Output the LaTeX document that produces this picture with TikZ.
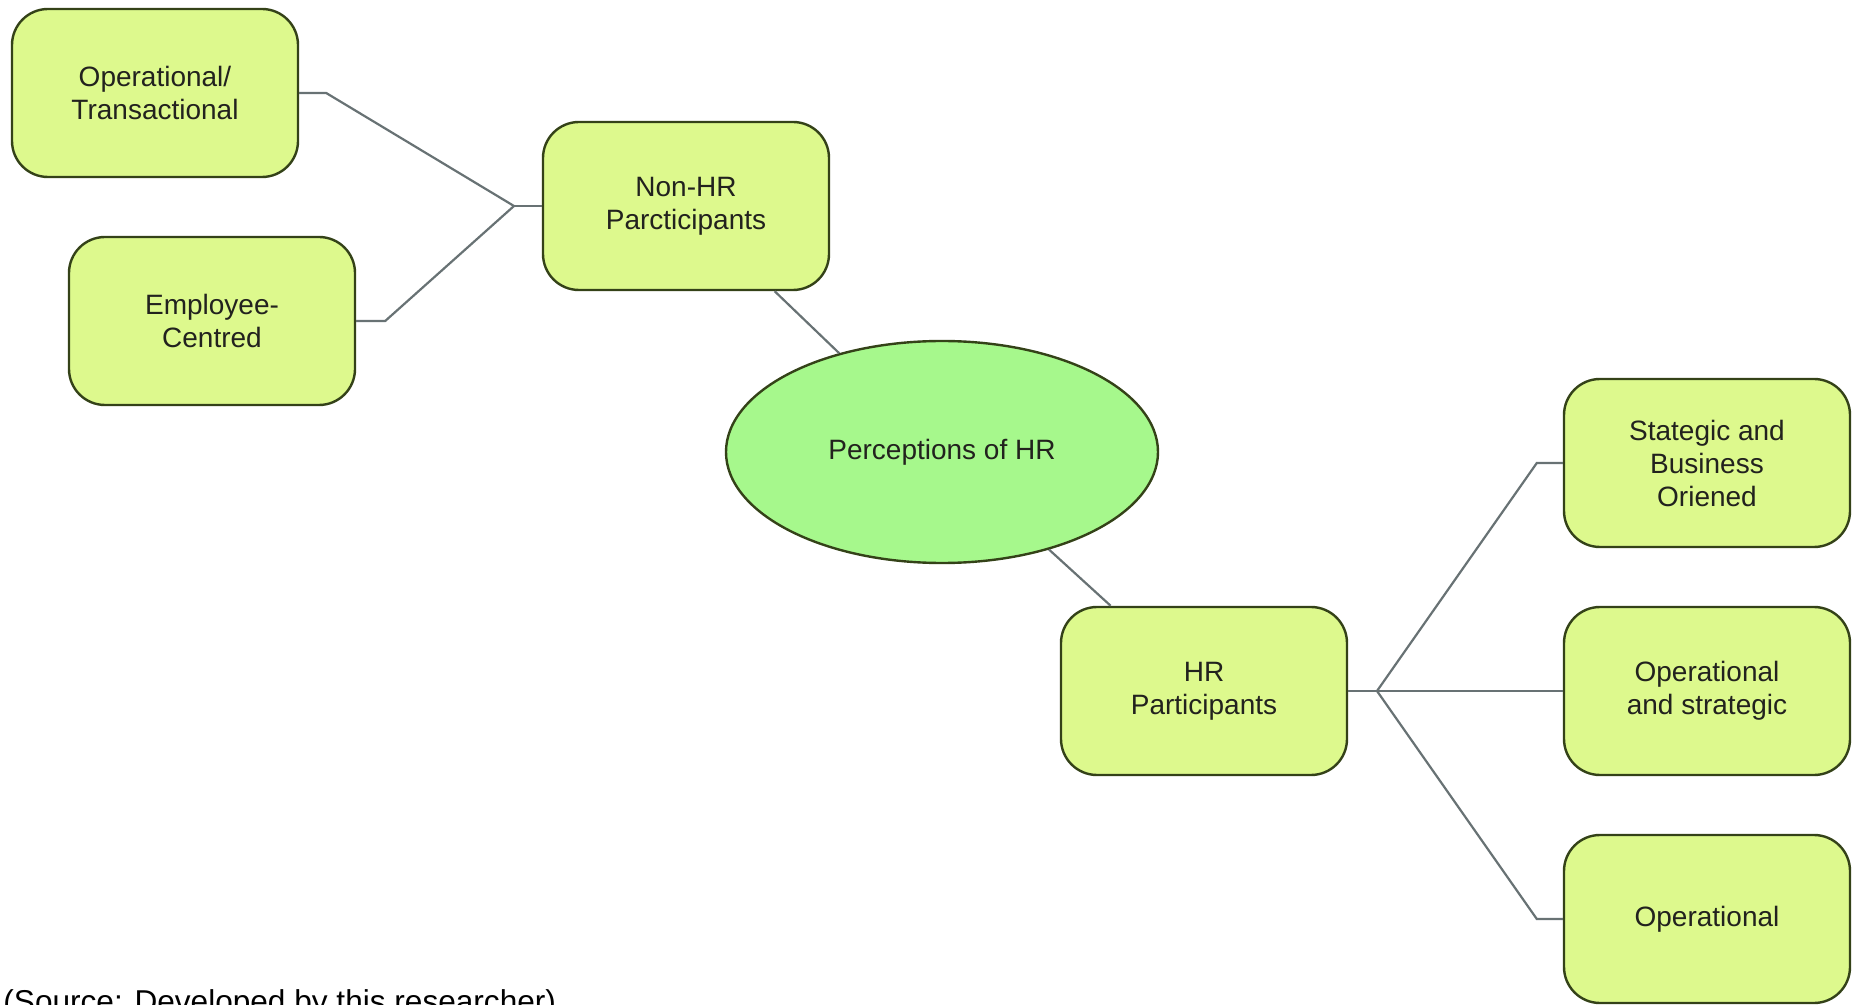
\documentclass[tikz,border=0pt]{standalone}
\usepackage{fontspec}
\setmainfont{Liberation Sans}
\usepackage{tikz}
\usetikzlibrary{shapes.geometric,calc}
\definecolor{mapLime}{RGB}{221,249,141}
\definecolor{mapGreen}{RGB}{166,248,140}
\definecolor{mapEdge}{RGB}{52,66,24}
\definecolor{mapLink}{RGB}{104,114,116}
\definecolor{mapText}{RGB}{34,34,30}

\begin{document}
\begin{tikzpicture}[
  x=0.5pt, y=-0.5pt,
  font=\fontsize{14}{16.5}\selectfont,
  leaf/.style={draw=mapEdge, line width=1.2pt, fill=mapLime, rounded corners=18pt,
    minimum width=143pt, minimum height=84pt, align=center, text=mapText, inner sep=2pt},
  hub/.style={ellipse, draw=mapEdge, line width=1.2pt, fill=mapGreen,
    minimum width=216pt, minimum height=111pt, text=mapText, inner sep=1pt},
  link/.style={draw=mapLink, line width=1.1pt},
]
\useasboundingbox (0,0) rectangle (1854,1005);
% centre
\node[hub] (percep) at (942,452) {Perceptions of HR};
% non-HR branch
\node[leaf] (nonHR) at (686,206) {Non-HR\\Parcticipants};
\node[leaf] (opTrans) at (155,93) {Operational/\\Transactional};
\node[leaf] (empCentred) at (212,321) {Employee-\\Centred};
% HR branch
\node[leaf] (hrPart) at (1204,691) {HR\\Participants};
\node[leaf] (stratBus) at (1707,463) {Stategic and\\Business\\Oriened};
\node[leaf] (opStrat) at (1707,691) {Operational\\and strategic};
\node[leaf] (oper) at (1707,919) {Operational};
% junctions
\coordinate (jNon) at (514,206);
\coordinate (jHR) at (1377,691);
% connectors
\draw[link] (nonHR) -- (percep);
\draw[link] (percep) -- (hrPart);
\draw[link] (opTrans.east) -- ([xshift=13.5pt]opTrans.east) -- (jNon);
\draw[link] (empCentred.east) -- ([xshift=14.5pt]empCentred.east) -- (jNon);
\draw[link] (jNon) -- (nonHR.west);
\draw[link] (hrPart.east) -- (jHR);
\draw[link] (jHR) -- ([xshift=-13pt]stratBus.west) -- (stratBus.west);
\draw[link] (jHR) -- (opStrat.west);
\draw[link] (jHR) -- ([xshift=-13pt]oper.west) -- (oper.west);
% caption, cut by the lower edge
\node[anchor=base west, inner sep=0pt, font=\fontsize{15.8}{18}\selectfont] (caption) at (3,1012) {(Source: Developed by this researcher)};
\end{tikzpicture}
\end{document}
